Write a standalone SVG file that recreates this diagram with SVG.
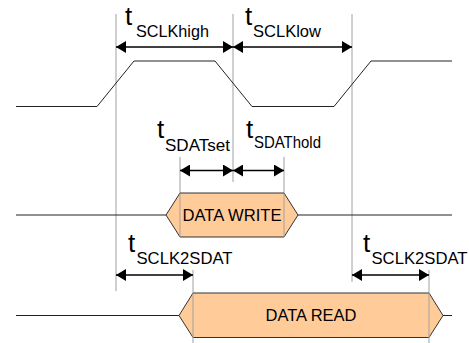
<svg xmlns="http://www.w3.org/2000/svg" width="469" height="343" viewBox="0 0 469 343">
<defs>
<marker id="ah" viewBox="0 0 10 12" refX="10" refY="6" markerWidth="10" markerHeight="12" markerUnits="userSpaceOnUse" orient="auto-start-reverse">
<path d="M0,0 L10,6 L0,12 Z" fill="#000"/>
</marker>
</defs>
<style>
.guide{stroke:#a0a0a0;stroke-width:1;fill:none}
.wave{stroke:#222;stroke-width:1;fill:none}
.dim{stroke:#000;stroke-width:1.4;fill:none;marker-start:url(#ah);marker-end:url(#ah)}
.bus{fill:#FFCC99;stroke:#333;stroke-width:1}
.t{font-family:"Liberation Sans",Arial,sans-serif;font-size:26px;fill:#000}
.sub{font-family:"Liberation Sans",Arial,sans-serif;font-size:17px;fill:#000}
.lbl{font-family:"Liberation Sans",Arial,sans-serif;font-size:16.5px;fill:#000;text-anchor:middle}
</style>
<g id="guides">
<line class="guide" x1="116" y1="14" x2="116" y2="291"/>
<line class="guide" x1="233" y1="14" x2="233" y2="182"/>
<line class="guide" x1="352" y1="14" x2="352" y2="282"/>
<line class="guide" x1="180" y1="157" x2="180" y2="193"/>
<line class="guide" x1="284" y1="157" x2="284" y2="193"/>
<line class="guide" x1="193" y1="270" x2="193" y2="293"/>
<line class="guide" x1="429" y1="270" x2="429" y2="293"/>
</g>
<g id="sclk">
<polyline class="wave" points="16,106.5 97,106.5 134,61 215,61 252,106.5 334,106.5 371,61 452,61"/>
</g>
<g id="data-write">
<line class="wave" x1="16" y1="215" x2="166" y2="215"/>
<polygon class="bus" points="166,215 180,193 284,193 298,215 284,237 180,237"/>
<line class="guide" x1="180" y1="193" x2="180" y2="237"/>
<line class="guide" x1="284" y1="193" x2="284" y2="237"/>
<line class="wave" x1="298" y1="215" x2="452" y2="215"/>
<text class="lbl" x="232" y="221" textLength="99" lengthAdjust="spacingAndGlyphs">DATA WRITE</text>
</g>
<g id="data-read">
<line class="wave" x1="16" y1="315.5" x2="179" y2="315.5"/>
<polygon class="bus" points="179,315.5 193,293 429,293 443,315.5 429,337.5 193,337.5"/>
<line class="guide" x1="193" y1="293" x2="193" y2="343"/>
<line class="guide" x1="429" y1="293" x2="429" y2="343"/>
<line class="wave" x1="443" y1="315.5" x2="452" y2="315.5"/>
<text class="lbl" x="311" y="321" textLength="91" lengthAdjust="spacingAndGlyphs">DATA READ</text>
</g>
<g id="connectors">
<line class="dim" x1="116" y1="47" x2="233" y2="47"/>
<line class="dim" x1="233" y1="47" x2="352" y2="47"/>
<line class="dim" x1="180" y1="170.5" x2="233" y2="170.5"/>
<line class="dim" x1="233" y1="170.5" x2="284" y2="170.5"/>
<line class="dim" x1="116" y1="275" x2="193" y2="275"/>
<line class="dim" x1="352" y1="275" x2="429" y2="275"/>
</g>
<g id="labels">
<text class="t" x="125" y="25">t</text><text class="sub" x="136" y="37" textLength="73" lengthAdjust="spacingAndGlyphs">SCLKhigh</text>
<text class="t" x="245" y="25">t</text><text class="sub" x="253" y="37" textLength="68" lengthAdjust="spacingAndGlyphs">SCLKlow</text>
<text class="t" x="157" y="138">t</text><text class="sub" x="165" y="150.5" textLength="65" lengthAdjust="spacingAndGlyphs">SDATset</text>
<text class="t" x="246" y="138">t</text><text class="sub" x="254" y="148" textLength="67" lengthAdjust="spacingAndGlyphs">SDAThold</text>
<text class="t" x="128" y="251.5">t</text><text class="sub" x="136.5" y="264" textLength="96" lengthAdjust="spacingAndGlyphs">SCLK2SDAT</text>
<text class="t" x="363" y="251.5">t</text><text class="sub" x="371.5" y="263.5" textLength="96" lengthAdjust="spacingAndGlyphs">SCLK2SDAT</text>
</g>
</svg>
